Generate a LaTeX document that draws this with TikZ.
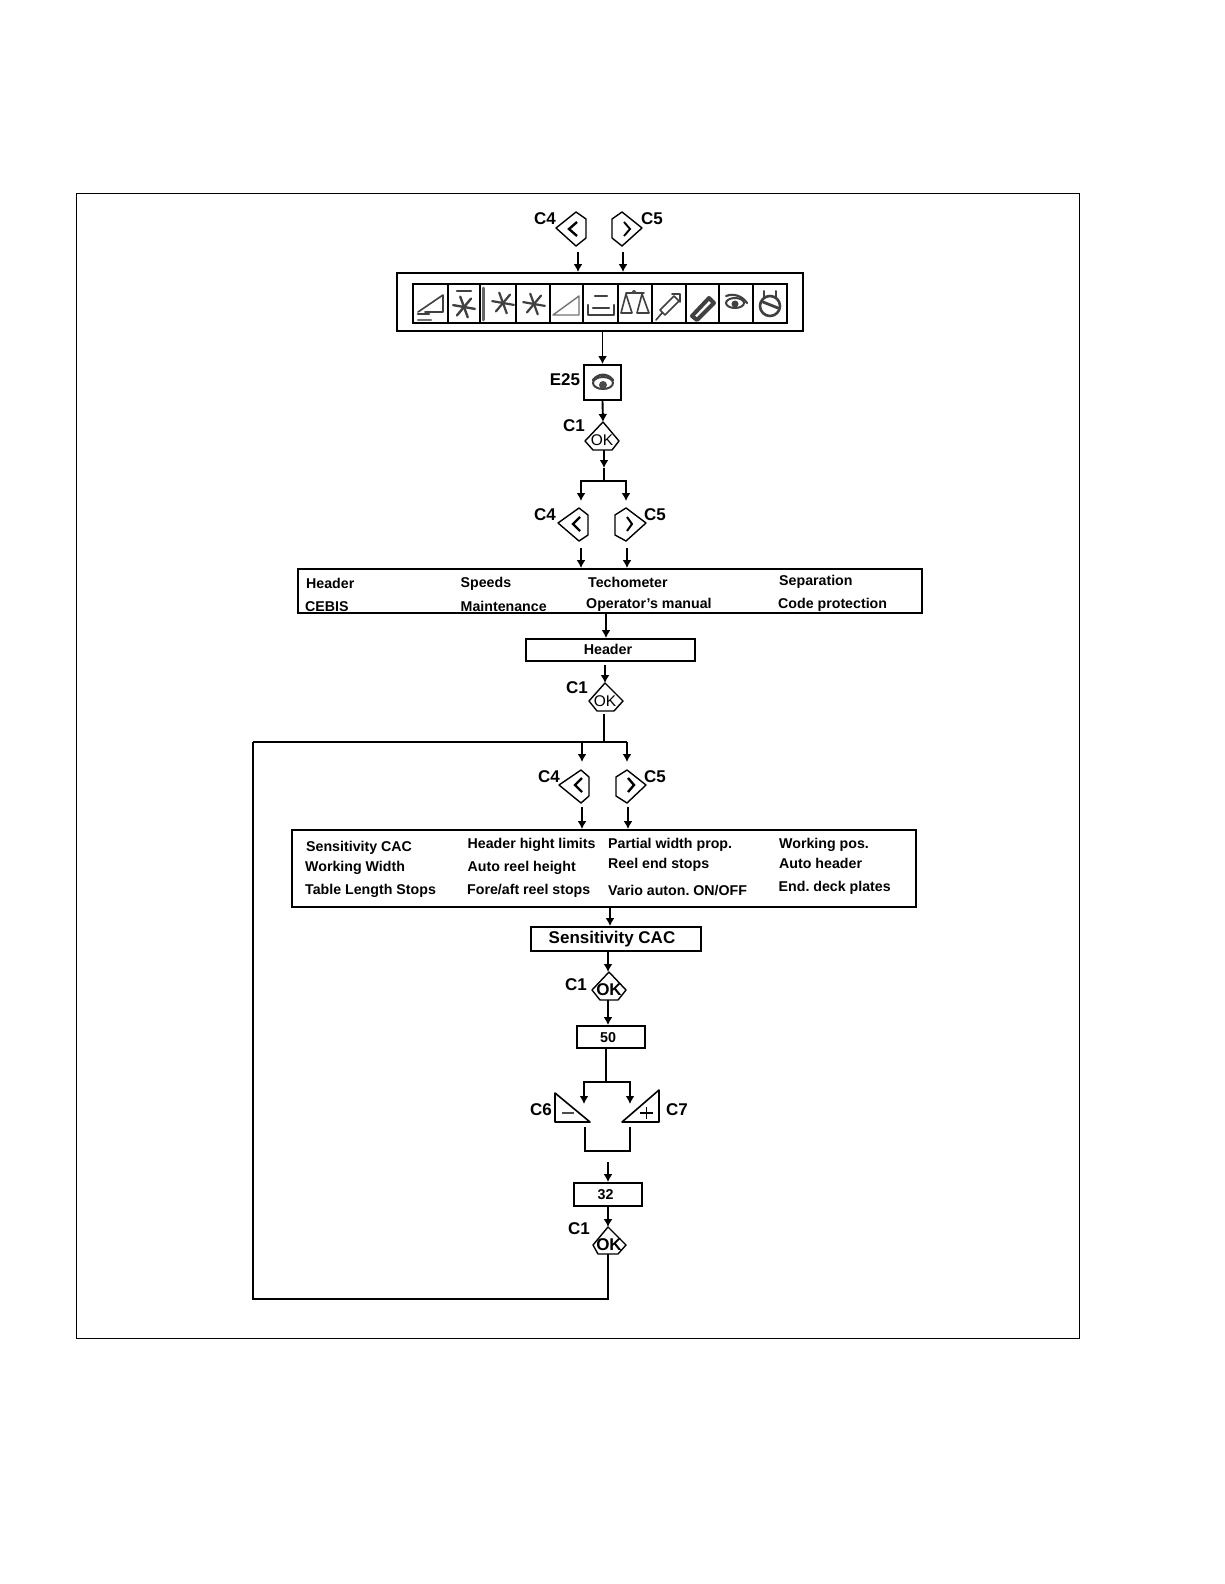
\documentclass[tikz,border=0pt]{standalone}
\usepackage{fontspec}
\usetikzlibrary{arrows.meta}
\setmainfont{Liberation Sans}
\begin{document}
\frenchspacing
\begin{tikzpicture}[x=1pt,y=-1pt,
  line/.style={line width=1.9pt,black},
  arr/.style={line width=1.9pt,black,-{Latex[length=8pt,width=9pt]}},
  bx/.style={draw,line width=1.9pt,inner sep=0pt},
  lab/.style={inner sep=0pt,font=\bfseries\fontsize{17}{18}\selectfont},
  row/.style={inner sep=0pt,anchor=base west,font=\bfseries\fontsize{14.2}{15}\selectfont},
  mid/.style={inner sep=0pt,font=\bfseries\fontsize{14.3}{15}\selectfont},
  big/.style={inner sep=0pt,font=\bfseries\fontsize{17}{18}\selectfont},
  hex/.style={draw,line width=1.4pt,line join=round},
  chev/.style={line width=2.4pt},
  cell/.style={draw,line width=1.8pt,inner sep=0pt,minimum height=39pt},
  ico/.style={draw=black!75,line width=1.6pt,line cap=round,line join=round},
  okt/.style={inner sep=0pt,font=\fontsize{15.5}{16}\selectfont}]
\useasboundingbox (0,0) rectangle (1224,1584);
\fill[white] (0,0) rectangle (1224,1584);
\node[draw,line width=0.8pt,inner sep=0pt,minimum width=1003pt,minimum height=1145pt] (frame) at (577.5,765.5) {};

% top panel
\node[bx,minimum width=406pt,minimum height=58pt] (panel) at (600,302) {};
\foreach \n/\a/\b in {1/413/448,2/448/480,3/480/516,4/516/550,5/550/583,6/583/618,7/618/652,8/652/686,9/686/719,10/719/753,11/753/787}{
  \pgfmathsetmacro\w{\b-\a}\pgfmathsetmacro\c{(\a+\b)/2}
  \node[cell,minimum width=\w pt] (cell\n) at (\c,303.5) {};
}
% icons
\begin{scope}[ico]
\draw (418,312) -- (443,295) -- (443,312) -- (425,312);
\draw[line width=2.6pt] (418,314) -- (429,314);
\draw[line width=2.6pt,black!55] (418,320) -- (431,320);
\foreach \an in {10,70,130}{\draw[line width=2.4pt] (464,307) ++(\an:-11) -- ++(\an:22);}
\draw[line width=2.6pt] (457,291) -- (471,291);
\draw[line width=3pt,black!60] (483,288) -- (483,320);
\foreach \an in {10,70,130}{\draw[line width=2.2pt] (503,303) ++(\an:-11) -- ++(\an:22);}
\foreach \an in {10,70,130}{\draw[line width=2.2pt] (534,304) ++(\an:-11) -- ++(\an:22);}
\draw[line width=1.4pt,black!55] (553,315) -- (579,296) -- (579,315) -- cycle;
\draw[line width=2.4pt] (588,305) -- (588,315) -- (614,315) -- (614,305) (593,308) -- (609,308);
\draw[line width=2.4pt] (595,296) -- (607,296);
\draw (621,313) -- (626,294) -- (632,313) -- cycle (637,313) -- (642,294) -- (649,313) -- cycle (626,293) -- (644,293);
\fill[black!70] (634,292) circle (2pt);
\draw (656,320) -- (662,313) (660,310) -- (674,296) -- (679,301) -- (665,315) -- cycle (672,294) -- (680,294) -- (680,302);
\draw[line width=4pt] (692,316) -- (709,298) -- (714,303) -- (697,320) -- cycle;
\draw[line width=2pt] (735,303) ellipse (9pt and 5pt); \fill[black!75] (735,304) circle (3.5pt);
\draw[line width=2.2pt] (726,296) .. controls (734,293) and (742,296) .. (747,303);
\draw[line width=2.6pt] (770,306) circle (10pt);
\draw[line width=2pt] (764,291) -- (764,297) (776,291) -- (776,297);
\draw[line width=2.8pt] (763,302) -- (778,308);
\end{scope}

% hexagon buttons
\draw[hex] (556,228) -- (576,212) -- (586,219) -- (586,238) -- (576,246) -- cycle;
\draw[chev] (577,222) -- (569,229) -- (577,236);
\draw[hex] (642,228) -- (622,212) -- (612,219) -- (612,238) -- (622,246) -- cycle;
\draw[chev,line width=1.9pt] (624,222) -- (630,229) -- (624,236);
\node[lab] (lc4a) at (545,219) {C4};
\node[lab] (lc5a) at (652,219) {C5};
\coordinate (a1) at (578,252); \coordinate (a2) at (623,252);
\draw[arr] (a1) -- (a1 |- panel.north);
\draw[arr] (a2) -- (a2 |- panel.north);

% E25
\node[bx,minimum width=37pt,minimum height=35pt] (e25) at (602.5,382.5) {};
\draw[ico,line width=2pt] (603,383) ellipse (10pt and 6pt); \fill[black!70] (603,385) circle (4pt);
\draw[ico,line width=2.4pt] (593,380) .. controls (599,373) and (607,373) .. (613,380);
\node[lab] (le25) at (565,380) {E25};
\draw[arr] (e25.north |- panel.south) -- (e25.north);

% OK 1
\draw[hex] (603,422) coordinate (ok1t) -- (619,441) -- (612,450) -- (593,450) -- (585,441) -- cycle;
\node[okt] (ok1) at (602,440) {OK};
\node[lab] (lc1a) at (574,426) {C1};
\draw[arr] (e25.south) -- (ok1t);
\coordinate (b0) at (604,450); \coordinate (b1) at (604,468);
\draw[arr] (b0) -- (b1);
\coordinate (j1) at (604,481); \coordinate (j1l) at (581,501); \coordinate (j1r) at (626,501);
\draw[line] (b1) -- (j1);
\draw[arr] (j1) -| (j1l);
\draw[arr] (j1) -| (j1r);

\draw[hex] (558,523) -- (579,508) -- (588,515) -- (588,535) -- (579,541) -- cycle;
\draw[chev] (580,517) -- (573,524) -- (580,531);
\draw[hex] (646,523) -- (626,508) -- (615,515) -- (615,535) -- (626,541) -- cycle;
\draw[chev,line width=2pt] (627,517) -- (632,524) -- (627,531);
\node[lab] (lc4b) at (545,515) {C4};
\node[lab] (lc5b) at (655,515) {C5};

% box 2
\node[bx,minimum width=624pt,minimum height=44pt] (box2) at (610,591) {};
\coordinate (a3) at (581,548); \coordinate (a4) at (627,548);
\draw[arr] (a3) -- (a3 |- box2.north);
\draw[arr] (a4) -- (a4 |- box2.north);
\node[row] (t1) at (306,588) {Header};
\node[row] (t2) at (460.5,587) {Speeds};
\node[row] (t3) at (588,587) {Techometer};
\node[row] (t4) at (779,585) {Separation};
\node[row] (t5) at (305,611) {CEBIS};
\node[row] (t6) at (460.5,611) {Maintenance};
\node[row] (t7) at (586,608) {Operator’s manual};
\node[row] (t8) at (778,608) {Code protection};

% header box
\node[bx,minimum width=169pt,minimum height=22pt] (hdr) at (610.5,650) {};
\node[mid] (hdrt) at (608,649.5) {Header};
\coordinate (x606) at (606,0);
\draw[arr] (x606 |- box2.south) -- (x606 |- hdr.north);

% OK 2
\draw[hex] (605,683) coordinate (ok2t) -- (623,701) -- (614,711) -- (597,711) -- (589,701) -- cycle;
\node[okt] (ok2) at (605,701) {OK};
\node[lab] (lc1b) at (577,688) {C1};
\coordinate (h1) at (605,665);
\draw[arr] (h1) -- (ok2t);
\coordinate (s2) at (604,714); \coordinate (j2) at (604,742);
\draw[line] (s2) -- (j2);
\coordinate (ll) at (253,742); \coordinate (lb) at (253,1299);
\coordinate (a5) at (582,762); \coordinate (a6) at (627,762);
\coordinate (a5t) at (582,742); \coordinate (a6t) at (627,742);
\draw[arr] (a5t) -- (a5);
\draw[arr] (a6t) -- (a6);
\draw[line] (ll) -- (a6t);

\draw[hex] (559,785) -- (581,770) -- (589,777) -- (589,796) -- (581,803) -- cycle;
\draw[chev] (582,778) -- (575,785) -- (582,792);
\draw[hex] (646,785) -- (627,770) -- (616,777) -- (616,796) -- (627,803) -- cycle;
\draw[chev] (628,778) -- (634,785) -- (628,792);
\node[lab] (lc4c) at (549,777) {C4};
\node[lab] (lc5c) at (655,777) {C5};

% box 3
\node[bx,minimum width=624pt,minimum height=77pt] (box3) at (604,868.5) {};
\coordinate (a7) at (582,807); \coordinate (a8) at (628,807);
\draw[arr] (a7) -- (a7 |- box3.north);
\draw[arr] (a8) -- (a8 |- box3.north);
\node[row] (u1) at (306,851) {Sensitivity CAC};
\node[row] (u2) at (467.5,848) {Header hight limits};
\node[row] (u3) at (608,848) {Partial width prop.};
\node[row] (u4) at (779,848) {Working pos.};
\node[row] (u5) at (305,871) {Working Width};
\node[row] (u6) at (467.5,871) {Auto reel height};
\node[row] (u7) at (608,868) {Reel end stops};
\node[row] (u8) at (779,868) {Auto header};
\node[row] (u9) at (305,894) {Table Length Stops};
\node[row] (u10) at (467,894) {Fore/aft reel stops};
\node[row] (u11) at (608,895) {Vario auton. ON/OFF};
\node[row] (u12) at (778.5,891) {End. deck plates};

% sensitivity
\node[bx,minimum width=170pt,minimum height=24pt] (sens) at (616,939) {};
\node[big] (senst) at (612,939.5) {Sensitivity CAC};
\coordinate (x610) at (610,0); \coordinate (x608) at (608,0);
\draw[arr] (x610 |- box3.south) -- (x610 |- sens.north);

% OK 3
\draw[hex] (609,972) coordinate (ok3t) -- (626,990) -- (618,1000) -- (600,1000) -- (592,990) -- cycle;
\node[big] (ok3) at (609,990) {OK};
\node[lab] (lc1c) at (576,985) {C1};
\coordinate (ok3b) at (608,1000);
\draw[arr] (x608 |- sens.south) -- (x608 |- ok3t);
\node[bx,minimum width=68pt,minimum height=22pt] (v50) at (611,1037) {};
\node[mid] (v50t) at (608,1037.5) {50};
\draw[arr] (ok3b) -- (x608 |- v50.north);

% split
\coordinate (j3) at (606,1082); \coordinate (c6t) at (584,1104); \coordinate (c7t) at (630,1104);
\draw[line] (j3 |- v50.south) -- (j3);
\draw[arr] (j3) -| (c6t);
\draw[arr] (j3) -| (c7t);
\draw[hex,line width=1.6pt] (555,1093) -- (555,1122) -- (590,1122) -- cycle;
\draw[hex,line width=1.6pt] (659,1090) -- (659,1122) -- (622,1122) -- cycle;
\draw[line width=1.2pt,black!70] (562,1113) -- (574,1113);
\draw[line width=1.7pt] (640,1113) -- (653,1113) (646.5,1107) -- (646.5,1119);
\node[lab] (lc6) at (541,1110) {C6};
\node[lab] (lc7) at (677,1110) {C7};
\coordinate (br1) at (585,1127); \coordinate (br2) at (630,1127);
\draw[line] (br1) -- (585,1151) -- (630,1151) -- (br2);

% 32
\node[bx,minimum width=68pt,minimum height=23pt] (v32) at (608,1194.5) {};
\node[mid] (v32t) at (605.5,1194.5) {32};
\coordinate (a9) at (608,1162);
\draw[arr] (a9) -- (a9 |- v32.north);
\draw[hex] (608,1227) coordinate (ok4t) -- (626,1245) -- (618,1254) -- (598,1254) -- (593,1245) -- cycle;
\node[big] (ok4) at (609,1245) {OK};
\node[lab] (lc1d) at (579,1229) {C1};
\coordinate (ok4b) at (608,1254);
\draw[arr] (ok4t |- v32.south) -- (ok4t);
\draw[line] (ok4b) -- (608,1299) -- (lb) -- (ll);
\end{tikzpicture}
\end{document}
